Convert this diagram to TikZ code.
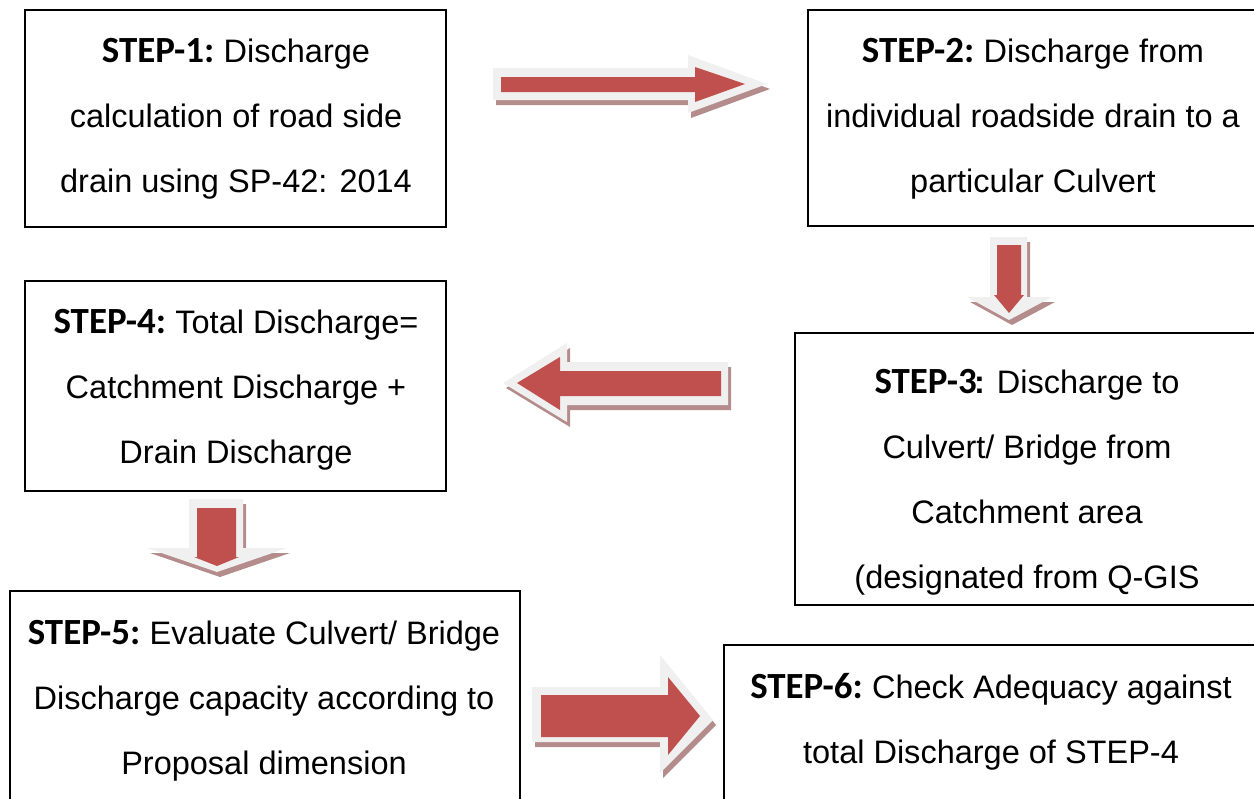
\documentclass[tikz,border=0pt]{standalone}
\usepackage{fontspec}
\setmainfont{Liberation Sans}
\newfontfamily\calibrifont{Carlito}
\definecolor{arrowred}{HTML}{C0504D}
\definecolor{arrowgray}{HTML}{F0F0F0}
\definecolor{shadowred}{HTML}{B58C8C}
\newcommand{\steplabel}[1]{{\calibrifont\bfseries\fontsize{21}{36.9}\selectfont #1}\hspace{-1.5pt}}
\tikzset{
  stepbox/.style={draw=black,line width=0.85pt},
  steptext/.style={inner sep=0pt,anchor=base,align=center,
    font=\fontsize{18.5}{36.9}\selectfont},
  arrowshadow/.style={fill=shadowred},
  arrowouter/.style={fill=arrowgray},
  arrowinner/.style={fill=arrowred}
}
\begin{document}
\begin{tikzpicture}[x=0.02cm,y=-0.02cm]
  \useasboundingbox (0,0) rectangle (1254,798);
  % Boxes
  \draw[stepbox] (25,10) rectangle (446,227);
  \draw[stepbox] (808,10) rectangle (1275,226);
  \draw[stepbox] (795,333) rectangle (1275,605);
  \draw[stepbox] (25,281) rectangle (446,491);
  \draw[stepbox] (10,591) rectangle (520,820);
  \draw[stepbox] (724,645) rectangle (1275,820);
  % Texts (anchored at the baseline of the last line)
  \node[steptext] (step1) at (236,192) {\steplabel{STEP-1:} Discharge\\calculation of road side\\drain using SP-42: 2014};
  \node[steptext] (step2) at (1033,192) {\steplabel{STEP-2:} Discharge from\\individual roadside drain to a\\particular Culvert};
  \node[steptext] (step3) at (1027,588) {\steplabel{STEP-3}{\bfseries:} Discharge to\\Culvert/ Bridge from\\Catchment area\\(designated from Q-GIS};
  \node[steptext] (step4) at (236,463) {\steplabel{STEP-4:} Total Discharge=\\Catchment Discharge +\\Drain Discharge};
  \node[steptext] (step5) at (264,774) {\steplabel{STEP-5:} Evaluate Culvert/ Bridge\\Discharge capacity according to\\Proposal dimension};
  \node[steptext] (step6) at (991,763) {\steplabel{STEP-6:} Check Adequacy against\\total Discharge of STEP-4};
  % Block arrow 1 -> 2
  \begin{scope}[shift={(3,5)}]
    \fill[arrowshadow] (493,68) -- (688,68) -- (688,55) -- (767,84) -- (688,113) -- (688,100) -- (493,100) -- cycle;
  \end{scope}
  \fill[arrowouter] (493,68) -- (688,68) -- (688,55) -- (767,84) -- (688,113) -- (688,100) -- (493,100) -- cycle;
  \fill[arrowinner] (501,77) -- (695,77) -- (695,67) -- (745,84) -- (695,102) -- (695,92) -- (501,92) -- cycle;
  % Block arrow 2 -> 3
  \begin{scope}[shift={(3,5)}]
    \fill[arrowshadow] (990,237) -- (1027,237) -- (1027,297) -- (1052,297) -- (1009,320) -- (967,297) -- (990,297) -- cycle;
  \end{scope}
  \fill[arrowouter] (990,237) -- (1027,237) -- (1027,297) -- (1052,297) -- (1009,320) -- (967,297) -- (990,297) -- cycle;
  \fill[arrowinner] (997,245) -- (1021,245) -- (1021,295) -- (1024,295) -- (1009,313) -- (994,295) -- (997,295) -- cycle;
  % Block arrow 3 -> 4
  \begin{scope}[shift={(3,5)}]
    \fill[arrowshadow] (728,362) -- (567,362) -- (567,343) -- (503,383) -- (567,422) -- (567,405) -- (728,405) -- cycle;
  \end{scope}
  \fill[arrowouter] (728,362) -- (567,362) -- (567,343) -- (503,383) -- (567,422) -- (567,405) -- (728,405) -- cycle;
  \fill[arrowinner] (721,371) -- (560,371) -- (560,357) -- (517,383) -- (560,410) -- (560,396) -- (721,396) -- cycle;
  % Block arrow 4 -> 5
  \begin{scope}[shift={(3,5)}]
    \fill[arrowshadow] (189,499) -- (243,499) -- (243,548) -- (287,548) -- (217,572) -- (147,548) -- (189,548) -- cycle;
  \end{scope}
  \fill[arrowouter] (189,499) -- (243,499) -- (243,548) -- (287,548) -- (217,572) -- (147,548) -- (189,548) -- cycle;
  \fill[arrowinner] (197,508) -- (236,508) -- (236,557) -- (239,557) -- (217,566) -- (194,557) -- (197,557) -- cycle;
  % Block arrow 5 -> 6
  \begin{scope}[shift={(3,5)}]
    \fill[arrowshadow] (532,687) -- (660,687) -- (660,655) -- (713,720) -- (660,773) -- (660,742) -- (532,742) -- cycle;
  \end{scope}
  \fill[arrowouter] (532,687) -- (660,687) -- (660,655) -- (713,720) -- (660,773) -- (660,742) -- (532,742) -- cycle;
  \fill[arrowinner] (541,695) -- (668,695) -- (668,677) -- (700,716) -- (668,755) -- (668,737) -- (541,737) -- cycle;
\end{tikzpicture}
\end{document}
